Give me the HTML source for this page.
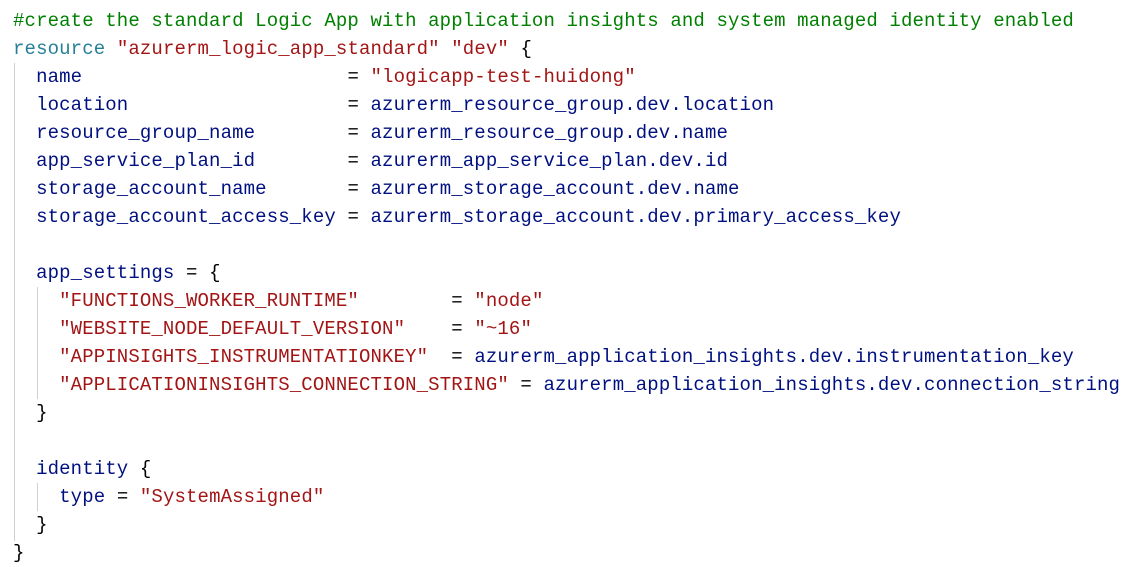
<!DOCTYPE html>
<html><head><style>
body{margin:0;background:#fff;width:1142px;height:565px;overflow:hidden;position:relative}
pre{margin:0;position:absolute;left:13px;top:7px;font-family:"Liberation Mono",monospace;font-size:19px;letter-spacing:0.13px;line-height:28px;color:#000}
.c{color:#008000}.k{color:#267f99}.s{color:#a31515}.n{color:#001080}
.g{position:absolute;width:1px;background:#d0d0d0}
</style></head><body>
<div class="g" style="left:14px;top:63px;height:478px"></div>
<div class="g" style="left:37px;top:287px;height:112px"></div>
<div class="g" style="left:37px;top:483px;height:28px"></div>
<pre><span class="c">#create the standard Logic App with application insights and system managed identity enabled</span>
<span class="k">resource</span> <span class="s">"azurerm_logic_app_standard"</span> <span class="s">"dev"</span> {
  <span class="n">name</span>                       = <span class="s">"logicapp-test-huidong"</span>
  <span class="n">location</span>                   = <span class="n">azurerm_resource_group.dev.location</span>
  <span class="n">resource_group_name</span>        = <span class="n">azurerm_resource_group.dev.name</span>
  <span class="n">app_service_plan_id</span>        = <span class="n">azurerm_app_service_plan.dev.id</span>
  <span class="n">storage_account_name</span>       = <span class="n">azurerm_storage_account.dev.name</span>
  <span class="n">storage_account_access_key</span> = <span class="n">azurerm_storage_account.dev.primary_access_key</span>

  <span class="n">app_settings</span> = {
    <span class="s">"FUNCTIONS_WORKER_RUNTIME"</span>        = <span class="s">"node"</span>
    <span class="s">"WEBSITE_NODE_DEFAULT_VERSION"</span>    = <span class="s">"~16"</span>
    <span class="s">"APPINSIGHTS_INSTRUMENTATIONKEY"</span>  = <span class="n">azurerm_application_insights.dev.instrumentation_key</span>
    <span class="s">"APPLICATIONINSIGHTS_CONNECTION_STRING"</span> = <span class="n">azurerm_application_insights.dev.connection_string</span>
  }

  <span class="n">identity</span> {
    <span class="n">type</span> = <span class="s">"SystemAssigned"</span>
  }
}</pre>
</body></html>
